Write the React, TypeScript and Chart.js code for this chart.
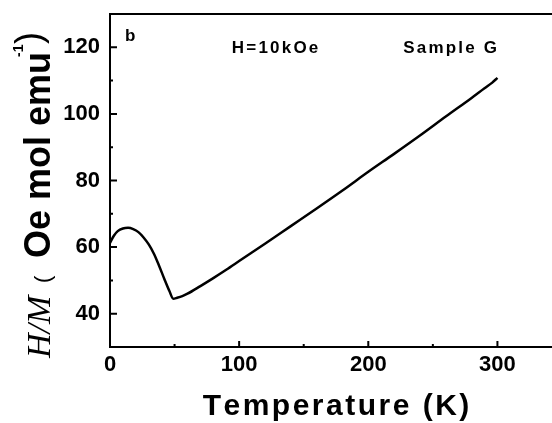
import { useEffect, useRef } from "react";
import { Chart, registerables } from "chart.js";

Chart.register(...registerables);

// H/M versus temperature, sample G at H = 10 kOe
const temperatureK = [0, 3, 6, 10, 14, 18, 22, 26, 30, 34, 38, 42, 46, 49, 52, 56, 60, 70, 80, 90, 100, 120, 140, 160, 180, 200, 220, 240, 260, 280, 290, 296, 300];
const hOverM = [61.3, 63.4, 64.8, 65.6, 65.8, 65.4, 64.5, 62.9, 60.8, 58.0, 54.4, 50.5, 46.8, 44.5, 44.8, 45.3, 46.0, 48.3, 50.7, 53.2, 55.8, 61.0, 66.3, 71.6, 77.0, 82.6, 88.0, 93.5, 99.2, 104.8, 107.7, 109.4, 110.8];

const xTicks = [0, 100, 200, 300];
const xMinorTicks = [50, 150, 250];
const yTicks = [40, 60, 80, 100, 120];
const yMinorTicks = [50, 70, 90, 110];

const SANS = '"Liberation Sans", Arial, Helvetica, sans-serif';
const SERIF = '"Liberation Serif", "Times New Roman", serif';

function drawSpaced(ctx: CanvasRenderingContext2D, text: string, x: number, y: number, gap: number, align: "left" | "center") {
  const chars = Array.from(text);
  const widths = chars.map((c) => ctx.measureText(c).width);
  const total = widths.reduce((s, w) => s + w, 0) + gap * (chars.length - 1);
  let cx = align === "center" ? x - total / 2 : x;
  ctx.textAlign = "left";
  chars.forEach((c, i) => {
    ctx.fillText(c, cx, y);
    cx += widths[i] + gap;
  });
}

const framePlugin = {
  id: "frameAndLabels",
  afterDatasetsDraw(chart: any) {
    const { ctx, chartArea: a, scales } = chart;
    const xs = scales.x;
    const ys = scales.y;
    ctx.save();
    ctx.strokeStyle = "#000";
    ctx.fillStyle = "#000";

    // frame
    ctx.lineWidth = 2;
    ctx.strokeRect(a.left, a.top, a.right - a.left, a.bottom - a.top);

    // inward ticks
    ctx.beginPath();
    for (const v of xTicks) {
      const px = xs.getPixelForValue(v);
      ctx.moveTo(px, a.bottom);
      ctx.lineTo(px, a.bottom - 6);
    }
    for (const v of xMinorTicks) {
      const px = xs.getPixelForValue(v);
      ctx.moveTo(px, a.bottom);
      ctx.lineTo(px, a.bottom - 3);
    }
    for (const v of yTicks) {
      const py = ys.getPixelForValue(v);
      ctx.moveTo(a.left, py);
      ctx.lineTo(a.left + 7, py);
    }
    for (const v of yMinorTicks) {
      const py = ys.getPixelForValue(v);
      ctx.moveTo(a.left, py);
      ctx.lineTo(a.left + 3, py);
    }
    ctx.stroke();

    // annotations inside the plot
    ctx.textBaseline = "alphabetic";
    ctx.font = `bold 17px ${SANS}`;
    ctx.textAlign = "left";
    ctx.fillText("b", xs.getPixelForValue(11.6), ys.getPixelForValue(122));
    drawSpaced(ctx, "H=10kOe", xs.getPixelForValue(127.8), ys.getPixelForValue(118.4), 2.2, "center");
    drawSpaced(ctx, "Sample G", xs.getPixelForValue(263.4), ys.getPixelForValue(118.4), 2.2, "center");

    // x title
    ctx.font = `bold 30px ${SANS}`;
    drawSpaced(ctx, "Temperature (K)", (a.left + a.right) / 2, 415, 2.5, "center");

    // y title, rotated
    ctx.save();
    ctx.translate(50, 358);
    ctx.rotate(-Math.PI / 2);
    ctx.textAlign = "left";
    ctx.font = `italic 34px ${SERIF}`;
    ctx.fillText("H/M", 0, 0);
    ctx.font = `22px ${SANS}`;
    ctx.fillText("(", 75, 0);
    ctx.font = `bold 36px ${SANS}`;
    const main = "Oe mol emu";
    ctx.fillText(main, 100, 0);
    const end = 100 + ctx.measureText(main).width;
    ctx.font = `bold 14px ${SANS}`;
    ctx.fillText("-1", end - 5, -27);
    ctx.font = `36px ${SANS}`;
    ctx.fillText(")", end + 8, -9);
    ctx.restore();

    ctx.restore();
  },
};

export default function App() {
  const canvasRef = useRef<HTMLCanvasElement>(null);

  useEffect(() => {
    const canvas = canvasRef.current;
    if (!canvas) return;
    const chart = new Chart(canvas, {
      type: "line",
      data: {
        datasets: [
          {
            data: temperatureK.map((t, i) => ({ x: t, y: hOverM[i] })),
            borderColor: "#000",
            borderWidth: 2.5,
            pointRadius: 0,
            cubicInterpolationMode: "monotone",
            fill: false,
          },
        ],
      },
      options: {
        responsive: false,
        animation: false,
        devicePixelRatio: 1,
        layout: { padding: { top: 14, right: 10, left: 0, bottom: 0 } },
        plugins: { legend: { display: false }, tooltip: { enabled: false } },
        scales: {
          x: {
            type: "linear",
            min: 0,
            max: 350,
            grid: { display: false, drawTicks: false },
            border: { display: false },
            afterBuildTicks: (scale: any) => {
              scale.ticks = xTicks.map((v) => ({ value: v }));
            },
            afterFit: (scale: any) => {
              scale.height = 76;
              scale.paddingLeft = 0;
              scale.paddingRight = 0;
            },
            ticks: {
              color: "#000",
              padding: 5,
              maxRotation: 0,
              font: { family: SANS, size: 22, weight: "bold" },
            },
          },
          y: {
            type: "linear",
            min: 30,
            max: 130,
            grid: { display: false, drawTicks: false },
            border: { display: false },
            afterBuildTicks: (scale: any) => {
              scale.ticks = yTicks.map((v) => ({ value: v }));
            },
            afterFit: (scale: any) => {
              scale.width = 110;
              scale.paddingTop = 0;
              scale.paddingBottom = 0;
            },
            ticks: {
              color: "#000",
              padding: 10,
              font: { family: SANS, size: 22, weight: "bold" },
            },
          },
        },
      },
      plugins: [framePlugin],
    });
    return () => chart.destroy();
  }, []);

  return (
    <div style={{ position: "fixed", left: 0, top: 0, width: 552, height: 423, overflow: "hidden", background: "#fff" }}>
      <canvas ref={canvasRef} width={572} height={423} style={{ display: "block", width: 572, height: 423 }} />
    </div>
  );
}
